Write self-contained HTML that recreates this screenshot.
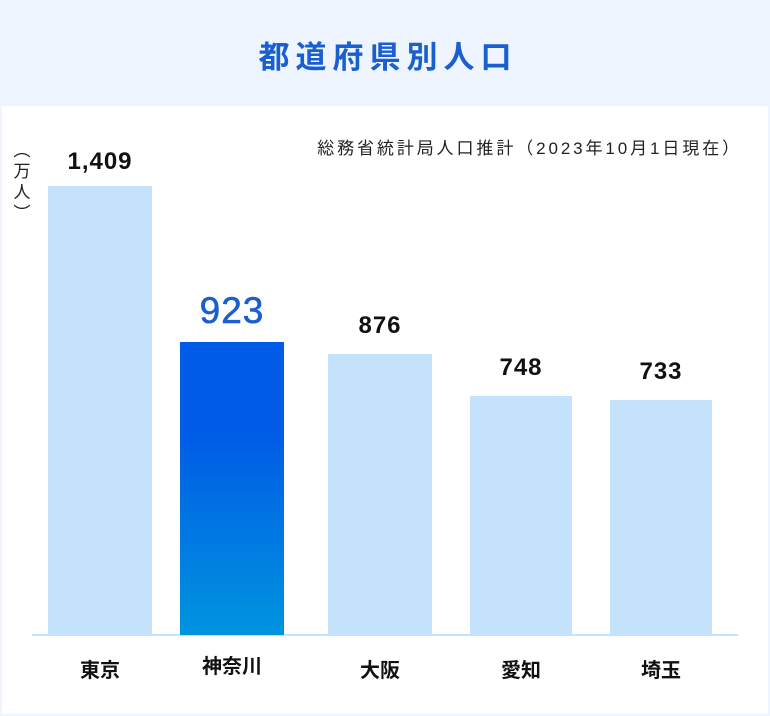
<!DOCTYPE html>
<html><head><meta charset="utf-8"><style>
body{margin:0;width:770px;height:716px;background:#eef5fe;position:relative;overflow:hidden;font-family:"Liberation Sans","Noto Sans CJK JP",sans-serif}
.w{position:absolute;left:2px;top:106px;width:766px;height:608px;background:#fff}
.t{position:absolute;left:0;width:770px;top:32px;text-align:center;font-size:31px;font-weight:bold;color:#1a5fcf;letter-spacing:6px;text-indent:6px}
.b{position:absolute;background:#c5e2fd;bottom:81px}
.v{position:absolute;text-align:center;font-size:24px;font-weight:bold;color:#111;letter-spacing:1px;width:140px}
.c{position:absolute;text-align:center;font-size:20px;font-weight:bold;color:#111;width:140px;top:654px}
</style></head><body>
<div class="t">都道府県別人口</div>
<div class="w"></div>
<div style="position:absolute;right:28px;top:134px;font-size:17px;color:#222;letter-spacing:2.9px;white-space:nowrap">総務省統計局人口推計（2023年10月1日現在）</div>
<div style="position:absolute;left:12px;top:140px;width:20px;font-size:17px;color:#222;line-height:21px;text-align:center">︵<br>万<br>人<br>︶</div>
<div style="position:absolute;left:32px;top:634px;width:706px;height:2px;background:#c5e2fd"></div>
<div class="b" style="left:48px;width:104px;top:186px;height:449px"></div>
<div class="b" style="left:180px;width:104px;top:342px;height:293px;background:linear-gradient(#005be6 0%,#005be6 30%,#0094de 100%)"></div>
<div class="b" style="left:328px;width:104px;top:354px;height:281px"></div>
<div class="b" style="left:470px;width:102px;top:396px;height:239px"></div>
<div class="b" style="left:610px;width:102px;top:400px;height:235px"></div>
<div class="v" style="left:30px;top:148px">1,409</div>
<div class="v" style="left:162px;top:290px;font-size:37px;font-weight:normal;color:#1a5fcf;-webkit-text-stroke:0.6px #1a5fcf">923</div>
<div class="v" style="left:310px;top:312px">876</div>
<div class="v" style="left:451px;top:354px">748</div>
<div class="v" style="left:591px;top:358px">733</div>
<div class="c" style="left:30px">東京</div>
<div class="c" style="left:162px;top:650px">神奈川</div>
<div class="c" style="left:310px">大阪</div>
<div class="c" style="left:451px">愛知</div>
<div class="c" style="left:591px">埼玉</div>
</body></html>
